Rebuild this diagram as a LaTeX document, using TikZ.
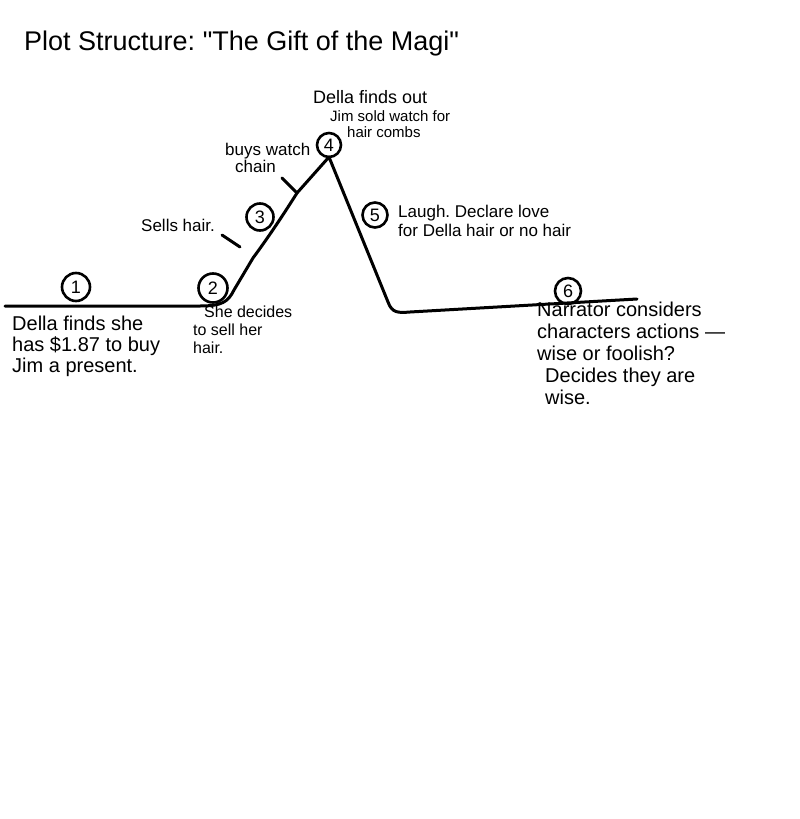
\documentclass[tikz,border=0pt]{standalone}
\usepackage{fontspec}
\setmainfont{Liberation Sans}
\frenchspacing
\newcommand\straightquote{\XeTeXglyph\XeTeXcharglyph"22\relax}
\begin{document}
\begin{tikzpicture}[x=1pt,y=-1pt,
  ink/.style={line width=3pt,line cap=round,line join=round},
  numcirc/.style={circle,draw,line width=2.6pt,inner sep=0pt,font=\fontsize{18}{18}\selectfont},
  hand/.style={anchor=north west,inner sep=0pt,align=left}]
\useasboundingbox (0,0) rectangle (800,819);
\node[anchor=base west,inner sep=0pt,font=\fontsize{27}{30}\selectfont] (title) at (24,50) {Plot Structure: \straightquote The Gift of the Magi\straightquote};
% plot curve
\coordinate (start) at (5,306);
\coordinate (peak) at (329,157);
\coordinate (finish) at (637,299);
\draw[ink] (start) -- (200,306) .. controls (222,306) and (228,302) .. (234,290) -- (253,258) .. controls (270,235) and (285,212) .. (297,193) -- (peak) -- (388,302) .. controls (392,313) and (398,313) .. (410,312) -- (finish);
% ticks
\coordinate (t1a) at (222,235); \coordinate (t1b) at (240,247);
\coordinate (t2a) at (282,178); \coordinate (t2b) at (297,193);
\draw[ink] (t1a) -- (t1b);
\draw[ink] (t2a) -- (t2b);
% numbered circles
\node[numcirc,minimum size=28pt] (c1) at (76,287) {1};
\node[numcirc,minimum size=29pt] (c2) at (213,288) {2};
\node[numcirc,minimum size=27pt] (c3) at (260,217) {3};
\node[numcirc,minimum size=24pt] (c4) at (329,145) {4};
\node[numcirc,minimum size=25pt] (c5) at (375,215) {5};
\node[numcirc,minimum size=26pt] (c6) at (568,291) {6};
% texts
\node[hand,font=\fontsize{20}{21}\selectfont] (t1) at (12,316) {Della finds she\\has \$1.87 to buy\\Jim a present.};
\node[hand,font=\fontsize{16}{18}\selectfont] (t2) at (193,306) {\hspace*{11pt}She decides\\to sell her\\hair.};
\node[hand,font=\fontsize{17}{18}\selectfont] (t3) at (141,219) {Sells hair.};
\node[hand,font=\fontsize{17}{17}\selectfont] (t4) at (225,143) {buys watch\\\hspace*{10pt}chain};
\node[hand,font=\fontsize{18}{20}\selectfont] (t5) at (313,90) {Della finds out};
\node[hand,font=\fontsize{15}{16}\selectfont] (t5b) at (330,110) {Jim sold watch for\\\hspace*{17pt}hair combs};
\node[hand,font=\fontsize{17}{19}\selectfont] (t6) at (398,205) {Laugh. Declare love\\for Della hair or no hair};
\node[hand,font=\fontsize{20}{22}\selectfont] (t7) at (537,302) {Narrator considers\\characters actions ---\\wise or foolish?\\\hspace*{8pt}Decides they are\\\hspace*{8pt}wise.};
\end{tikzpicture}
\end{document}
